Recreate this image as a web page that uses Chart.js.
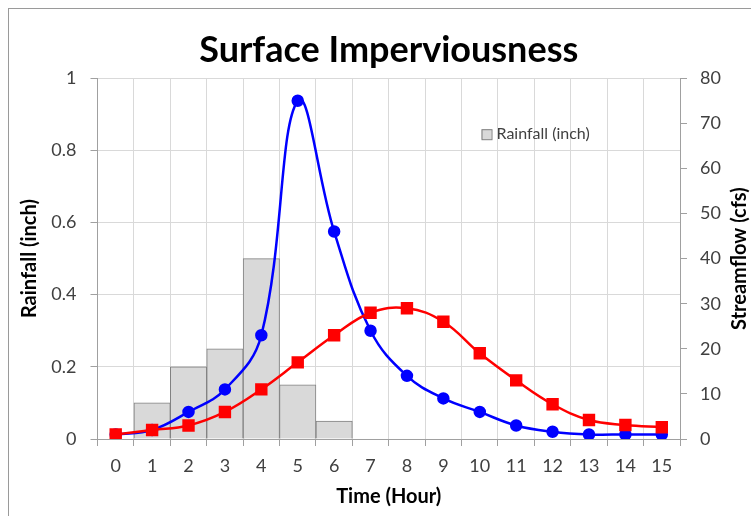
<!DOCTYPE html>
<html>
<head>
<meta charset="utf-8">
<script src="https://cdn.jsdelivr.net/npm/chart.js@4.4.1/dist/chart.umd.min.js"></script>
<style>
  body { margin: 0; background: #fff; }
  #wrap { position: relative; width: 751px; height: 516px; overflow: hidden; }
  #frame { position: absolute; left: 8px; top: 8px; width: 760px; height: 520px; border: 1.5px solid #9a9a9a; pointer-events: none; }
</style>
</head>
<body>
<div id="wrap">
  <canvas id="chart" width="751" height="516"></canvas>
  <div id="frame"></div>
</div>
<script>
// hours on the x axis
const hours = ['0', '1', '2', '3', '4', '5', '6', '7', '8', '9', '10', '11', '12', '13', '14', '15'];
// rainfall per hour (inch), left axis
const rainfall = [null, 0.1, 0.2, 0.25, 0.5, 0.15, 0.05, null, null, null, null, null, null, null, null, null];
// streamflow (cfs), right axis
const flowHigh = [1, 2, 6, 11, 23, 75, 46, 24, 14, 9, 6, 3, 1.6, 1, 1, 1];
const flowLow = [1, 2, 3, 6, 11, 17, 23, 28, 29, 26, 19, 13, 7.7, 4.2, 3.1, 2.6];

const tickFont = { family: 'Lato', size: 18 };
const axisTitleFont = { family: 'Lato', size: 20, weight: 'bold' };

// legend inside the plot + right axis title (reads bottom to top)
const extras = {
    id: 'extras',
    afterDraw(chart) {
        const { ctx, chartArea } = chart;
        ctx.save();
        const lx = chartArea.left + 384;
        const ly = chartArea.top + 51;
        ctx.fillStyle = '#d9d9d9';
        ctx.fillRect(lx, ly, 10, 10);
        ctx.strokeStyle = '#7f7f7f';
        ctx.lineWidth = 1;
        ctx.strokeRect(lx + 0.5, ly + 0.5, 10, 10);
        ctx.font = '16px Lato';
        ctx.fillStyle = '#404040';
        ctx.textAlign = 'left';
        ctx.textBaseline = 'middle';
        ctx.fillText(chart.data.datasets[0].label, lx + 15, ly + 5);

        const y2 = chart.scales.y2;
        ctx.translate(y2.right - 11, (chartArea.top + chartArea.bottom) / 2);
        ctx.rotate(-Math.PI / 2);
        ctx.font = 'bold 20px Lato';
        ctx.fillStyle = '#000';
        ctx.textAlign = 'center';
        ctx.fillText('Streamflow (cfs)', 0, 0);
        ctx.restore();
    }
};

new Chart(document.getElementById('chart').getContext('2d'), {
    type: 'bar',
    data: {
        labels: hours,
        datasets: [{
            type: 'bar',
            label: 'Rainfall (inch)',
            data: rainfall,
            yAxisID: 'y',
            backgroundColor: '#d9d9d9',
            borderColor: '#808080',
            borderWidth: 1,
            barPercentage: 1,
            categoryPercentage: 1,
            order: 2
        }, {
            type: 'line',
            label: 'Streamflow (cfs) - high',
            data: flowHigh,
            yAxisID: 'y2',
            borderColor: '#0000ff',
            backgroundColor: '#0000ff',
            borderWidth: 2.5,
            pointRadius: 5,
            pointStyle: 'circle',
            tension: 0.4,
            order: 1
        }, {
            type: 'line',
            label: 'Streamflow (cfs) - low',
            data: flowLow,
            yAxisID: 'y2',
            borderColor: '#ff0000',
            backgroundColor: '#ff0000',
            borderWidth: 2.5,
            pointRadius: 7,
            pointStyle: 'rect',
            tension: 0.4,
            order: 0
        }]
    },
    options: {
        responsive: false,
        animation: false,
        layout: { padding: 0 },
        plugins: {
            legend: { display: false },
            tooltip: { enabled: false },
            title: {
                display: true,
                fullSize: false,
                text: 'Surface Imperviousness',
                color: '#000',
                font: { family: 'Lato', size: 36, weight: 'bold' },
                padding: { top: 29, bottom: 6 }
            }
        },
        scales: {
            x: {
                offset: true,
                grid: { offset: true, color: '#d9d9d9', tickColor: '#a0a0a0', tickLength: 7 },
                border: { color: '#a0a0a0' },
                ticks: { font: tickFont, color: '#404040', padding: 9, maxRotation: 0, autoSkip: false },
                title: { display: true, text: 'Time (Hour)', color: '#000', font: axisTitleFont, padding: { top: 4, bottom: 7 } },
                afterFit: s => { s.height = 77; }
            },
            y: {
                position: 'left',
                min: 0,
                max: 1,
                ticks: { stepSize: 0.2, font: tickFont, color: '#404040', padding: 14, callback: v => String(+v.toFixed(1)) },
                grid: { color: '#d9d9d9', tickColor: '#a0a0a0', tickLength: 7 },
                border: { color: '#a0a0a0' },
                title: { display: true, text: 'Rainfall (inch)', color: '#000', font: axisTitleFont, padding: { top: 18 } },
                afterFit: s => { s.width = 97.5; }
            },
            y2: {
                position: 'right',
                min: 0,
                max: 80,
                ticks: { stepSize: 10, font: tickFont, color: '#404040', padding: 13 },
                grid: { drawOnChartArea: false, tickColor: '#a0a0a0', tickLength: 7 },
                border: { color: '#a0a0a0' },
                afterFit: s => { s.width = 71; }
            }
        }
    },
    plugins: [extras]
});
</script>
</body>
</html>
